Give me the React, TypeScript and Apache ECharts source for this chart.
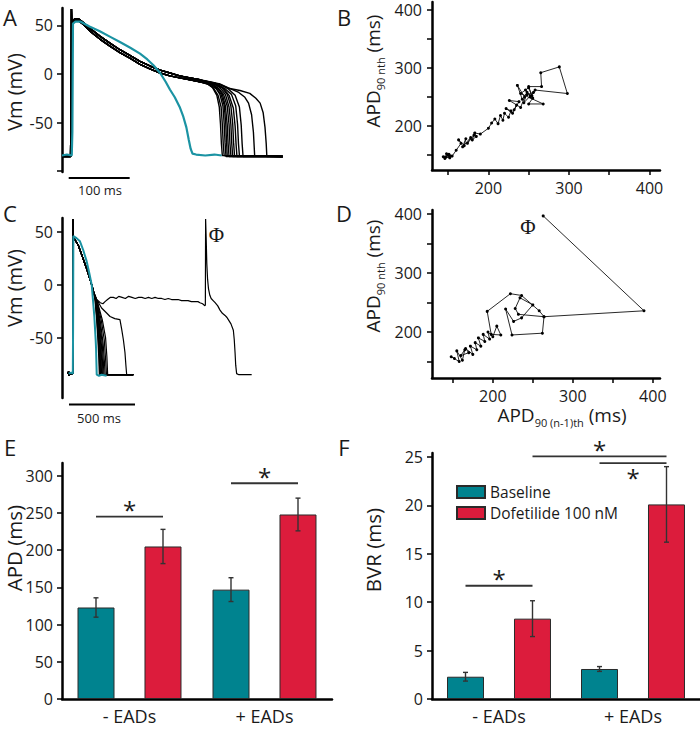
import React, { useEffect, useRef } from 'react';
import * as echarts from 'echarts';

const FONT = '"Open Sans", "Noto Sans", sans-serif';
const SERIF = '"Liberation Serif", "DejaVu Serif", serif';
const TEAL = '#00838f';
const TEAL_TRACE = '#1b93a3';
const RED = '#dc1c3c';
const INK = '#1a1a1a';

// ---------- Panel A : action potentials (t in ms, Vm in mV) ----------
const baselineTraceA: number[][] = [
  [0, -84], [8, -83], [16, -84], [17, -60], [18, 52], [22, 54], [30, 54], [45, 49], [62, 44], [80, 38],
  [95, 33], [112, 27], [128, 21], [140, 15], [150, 9], [161, 1], [170, -8], [177, -16], [185, -24],
  [193, -34], [199, -44], [204, -55], [208, -68], [211, -77], [214, -82], [220, -83], [235, -84],
  [250, -83], [262, -84],
];
const dofCommonA: number[][] = [
  [0, -85], [14, -85], [15, -84], [15.5, 67], [16.5, 40], [18, 54], [21, 57], [27, 57], [35, 53],
  [48, 46], [62, 39], [78, 32], [95, 25], [112, 19], [128, 13], [145, 8], [161, 4], [177, 1],
  [193, -2], [210, -4], [226, -6],
];
const dofCommonA2: number[][] = [
  [0, -84], [14, -84], [15, -84], [16, 20], [18, 52], [21, 56], [27, 55], [35, 51],
  [48, 43], [62, 36], [78, 29], [95, 22], [112, 16], [128, 10], [145, 5], [161, 1], [177, -2],
  [193, -4], [210, -6], [226, -8],
];
const dofTailsA: number[][][] = [
  [[237, -9], [247, -14], [254, -22], [258, -34], [260, -52], [261.5, -72], [263, -84], [362, -85]],
  [[238, -10], [249, -15], [256, -22], [261, -34], [263, -52], [264.5, -72], [266, -84], [362, -85]],
  [[240, -9], [251, -13], [259, -21], [264, -33], [266, -51], [267.5, -71], [269, -85], [362, -85]],
  [[241, -11], [253, -15], [261, -21], [266, -32], [268.5, -50], [270, -71], [271, -84], [362, -85]],
  [[243, -9], [255, -14], [263, -21], [268, -33], [271, -52], [272.5, -72], [274, -85], [362, -85]],
  [[244, -11], [257, -15], [265, -21], [271, -33], [274, -52], [275.5, -72], [277, -84], [362, -85]],
  [[246, -9], [259, -14], [268, -21], [274, -34], [277, -52], [278.5, -72], [280, -85], [362, -85]],
  [[248, -10], [262, -14], [271, -21], [277, -33], [280, -51], [281.5, -71], [283, -84], [362, -85]],
  [[250, -9], [264, -14], [274, -22], [281, -35], [284, -54], [285.5, -72], [287, -85], [362, -85]],
  [[252, -11], [267, -15], [278, -21], [285, -33], [288, -52], [289.5, -72], [291, -84], [362, -85]],
  [[256, -10], [272, -15], [284, -22], [291, -34], [294, -53], [295.5, -72], [297, -85], [362, -85]],
  [[258, -10], [272, -14], [290, -19], [300, -24], [306, -30], [311, -42], [314, -60], [316, -84], [362, -85]],
  [[260, -11], [275, -15], [292, -17], [308, -20], [318, -25], [325, -30], [330, -40], [333, -55], [335, -72], [336, -85], [362, -85]],
];
const scaleBarA = 100; // ms

// ---------- Panel C : action potentials with EAD ----------
const baselineTraceC: number[][] = [
  [50, -84], [70, -83], [82, -84], [84, -40], [86, 46], [91, 46], [110, 44], [136, 41], [160, 33],
  [187, 22], [205, 12], [225, 0], [237, -18], [245, -30], [250, -41], [255, -52], [258, -60],
  [261, -75], [263, -85], [280, -86], [300, -85], [338, -86],
];
const dofCommonC: number[][] = [
  [45, -84], [50, -82], [55, -86], [60, -84], [82, -84], [83, 62], [84.5, 30], [86, 46], [91, 44],
  [105, 41], [124, 37], [150, 28], [170, 21], [187, 15], [205, 8], [225, 0], [240, -7],
];
const dofTailsC: number[][][] = [
  [[250, -14], [262, -32], [272, -52], [279, -70], [283, -85], [540, -85]],
  [[252, -15], [265, -33], [276, -54], [283, -71], [287, -85], [540, -85]],
  [[253, -14], [268, -34], [280, -55], [287, -72], [292, -85], [540, -85]],
  [[255, -15], [271, -35], [284, -56], [291, -72], [296, -85], [540, -85]],
  [[256, -14], [274, -34], [288, -55], [296, -73], [300, -85], [540, -85]],
  [[258, -15], [278, -35], [293, -56], [301, -72], [306, -85], [540, -85]],
  [[260, -16], [282, -36], [298, -56], [306, -71], [311, -85], [540, -85]],
  [[262, -16], [286, -35], [304, -55], [313, -72], [318, -85], [540, -85]],
  [[265, -17], [292, -36], [312, -56], [321, -72], [327, -85], [540, -85]],
  [[268, -17], [298, -34], [320, -52], [330, -70], [337, -85], [540, -85]],
  [[272, -18], [305, -33], [330, -50], [340, -68], [346, -85], [540, -85]],
  [[263, -14], [300, -22], [340, -27], [364, -30], [400, -32], [439, -33], [452, -42], [465, -52],
    [477, -64], [484, -76], [490, -85], [540, -85]],
  [[263, -14], [290, -17], [310, -18], [326, -16], [345, -14], [365, -12], [389, -12], [410, -13],
    [430, -11], [455, -12], [480, -13], [505, -11], [530, -12], [555, -13], [580, -12], [605, -12],
    [630, -13], [655, -12], [680, -13], [705, -12], [730, -13], [755, -13], [780, -14], [805, -13],
    [830, -14], [855, -14], [880, -14], [905, -15], [930, -15], [955, -15], [980, -16], [1005, -16],
    [1030, -16], [1045, -17], [1065, -18], [1083, -20], [1086, -19], [1088, 62], [1092, 45],
    [1097, 20], [1103, 5], [1110, -4], [1120, -10], [1130, -13], [1145, -15], [1160, -17],
    [1180, -20], [1197, -24], [1215, -27], [1235, -29], [1250, -31], [1260, -33], [1280, -37],
    [1298, -43], [1305, -52], [1311, -64], [1316, -76], [1323, -84], [1340, -85], [1380, -85], [1437, -85]],
];
const scaleBarC = 500; // ms

// ---------- Panels B & D : APD restitution (Poincaré) ----------
const apdPairsB: number[][] = [
  [146, 144], [150, 150], [144, 147], [152, 145], [148, 152], [153, 148], [147, 146], [151, 151],
  [155, 148], [160, 158], [166, 170], [163, 176], [170, 166], [172, 178], [168, 164], [178, 180],
  [174, 170], [182, 184], [180, 176], [185, 182], [183, 188], [190, 186], [200, 196], [204, 205],
  [208, 212], [212, 204], [215, 218], [218, 210], [220, 222], [225, 215], [228, 226], [222, 230],
  [230, 222], [235, 236], [232, 228], [238, 242], [226, 244], [240, 232], [245, 250], [236, 270],
  [242, 246], [248, 258], [244, 240], [252, 252], [246, 262], [255, 248], [250, 238], [268, 238],
  [240, 256], [250, 266], [254, 252], [250, 268], [266, 268], [265, 292], [288, 302], [298, 256],
  [258, 262], [252, 250], [256, 258], [248, 254],
];
const apdPairsD: number[][] = [
  [152, 155], [148, 158], [158, 150], [155, 168], [162, 152], [165, 170], [160, 160], [170, 165],
  [166, 172], [175, 162], [172, 176], [180, 170], [178, 182], [185, 176], [182, 190], [190, 184],
  [188, 196], [196, 188], [194, 200], [200, 192], [205, 210], [210, 195], [198, 196], [193, 235],
  [222, 265], [236, 262], [258, 236], [264, 226], [262, 198], [224, 195], [216, 239], [226, 218],
  [236, 224], [250, 246], [234, 258], [228, 240], [232, 230], [264, 226], [389, 236], [263, 397],
];

// ---------- Panels E & F : bars ----------
const groups = ['- EADs', '+ EADs'];
const apdBaseline = [123, 147];
const apdBaselineErr = [13, 16];
const apdDof = [205, 248];
const apdDofErr = [23, 22];
const bvrBaseline = [2.3, 3.1];
const bvrBaselineErr = [0.45, 0.25];
const bvrDof = [8.3, 20.1];
const bvrDofErr = [1.85, 3.9];
// significance bars: [group1, side1, group2, side2, value, starBelow]
const sigE = [[0, -1, 0, 1, 245, 0], [1, -1, 1, 1, 290, 0]];
const sigF = [[0, -1, 0, 1, 11.7, 0], [0, 1, 1, 1, 25.06, 0], [1, -1, 1, 1, 24.36, 1]];

const BAR_W = 37;
const BAR_OFF = 33.5;

function buildOption() {
  const axisLineStyle = { show: true, onZero: false, lineStyle: { color: '#000', width: 2.5 } };
  const tickStyle = (vals: number[]) => ({ show: true, customValues: vals, length: 5, lineStyle: { color: '#000', width: 1.5 } });
  const labelStyle = (vals: number[], margin: number) => ({
    customValues: vals, fontSize: 16, color: INK, fontFamily: FONT, margin,
  });
  const hiddenX = (grid: number, max: number) => ({ gridIndex: grid, type: 'value', min: 0, max, show: false });
  const grid = (left: number, top: number, width: number, height: number) => ({ left, top, width, height, containLabel: false });

  const series: any[] = [];
  // A
  dofTailsA.forEach((tail, i) => {
    series.push({
      type: 'line', xAxisIndex: 0, yAxisIndex: 0, data: (i % 2 ? dofCommonA2 : dofCommonA).concat(tail), showSymbol: false,
      lineStyle: { color: '#000', width: 1.4 }, z: 2, silent: true,
    });
  });
  series.push({
    type: 'line', xAxisIndex: 0, yAxisIndex: 0, data: baselineTraceA, showSymbol: false,
    lineStyle: { color: TEAL_TRACE, width: 2.2 }, z: 3, silent: true,
  });
  series.push({
    type: 'line', xAxisIndex: 0, yAxisIndex: 0, data: [[11, -107.2], [11 + scaleBarA, -107.2]], showSymbol: false,
    lineStyle: { color: '#000', width: 2 }, clip: false, silent: true,
  });
  // C
  dofTailsC.forEach((tail) => {
    series.push({
      type: 'line', xAxisIndex: 2, yAxisIndex: 2, data: dofCommonC.concat(tail), showSymbol: false,
      lineStyle: { color: '#000', width: 1.2 }, z: 2, silent: true,
    });
  });
  series.push({
    type: 'line', xAxisIndex: 2, yAxisIndex: 2, data: baselineTraceC, showSymbol: false,
    lineStyle: { color: TEAL_TRACE, width: 2 }, z: 3, silent: true,
  });
  series.push({
    type: 'line', xAxisIndex: 2, yAxisIndex: 2, data: [[53, -113.2], [53 + scaleBarC, -113.2]], showSymbol: false,
    lineStyle: { color: '#000', width: 2 }, clip: false, silent: true,
  });
  // B, D
  [[1, apdPairsB], [3, apdPairsD]].forEach(([idx, pts]: any) => {
    series.push({
      type: 'line', xAxisIndex: idx, yAxisIndex: idx, data: pts, showSymbol: true, symbol: 'circle', symbolSize: 3,
      itemStyle: { color: '#000' }, lineStyle: { color: '#111', width: 0.9 }, silent: true,
    });
  });

  // E, F bars
  const barStyle = (c: string) => ({ color: c, borderColor: '#2a2a2a', borderWidth: 1 });
  const errRender = (params: any, api: any) => {
    const cat = api.value(0), v = api.value(1), e = api.value(2), side = api.value(3);
    const top = api.coord([cat, v + e]);
    const bot = api.coord([cat, v - e]);
    const x = top[0] + side * BAR_OFF;
    const style = { stroke: '#333', lineWidth: 1.4 };
    return {
      type: 'group', children: [
        { type: 'line', shape: { x1: x, y1: top[1], x2: x, y2: bot[1] }, style },
        { type: 'line', shape: { x1: x - 2.5, y1: top[1], x2: x + 2.5, y2: top[1] }, style },
        { type: 'line', shape: { x1: x - 2.5, y1: bot[1], x2: x + 2.5, y2: bot[1] }, style },
      ],
    };
  };
  const sigRender = (params: any, api: any) => {
    const c1 = api.value(0), s1 = api.value(1), c2 = api.value(2), s2 = api.value(3), v = api.value(4), below = api.value(5);
    const p1 = api.coord([c1, v]);
    const p2 = api.coord([c2, v]);
    const x1 = p1[0] + s1 * BAR_OFF;
    const x2 = p2[0] + s2 * BAR_OFF;
    return {
      type: 'group', children: [
        { type: 'line', shape: { x1, y1: p1[1], x2, y2: p1[1] }, style: { stroke: '#333', lineWidth: 1.8 } },
        {
          type: 'text', x: (x1 + x2) / 2, y: below ? p1[1] + 14 : p1[1] - 7,
          style: { text: '*', fontSize: 24, fontFamily: FONT, fill: INK, textAlign: 'center', textVerticalAlign: 'middle' },
        },
      ],
    };
  };
  const addBars = (idx: number, base: number[], baseErr: number[], dof: number[], dofErr: number[], sig: number[][]) => {
    series.push({ name: 'Baseline', type: 'bar', xAxisIndex: idx, yAxisIndex: idx, data: base, barWidth: BAR_W, barGap: '81%', itemStyle: barStyle(TEAL), silent: true });
    series.push({ name: 'Dofetilide 100 nM', type: 'bar', xAxisIndex: idx, yAxisIndex: idx, data: dof, barWidth: BAR_W, barGap: '81%', itemStyle: barStyle(RED), silent: true });
    const errData = base.map((v, i) => [i, v, baseErr[i], -1]).concat(dof.map((v, i) => [i, v, dofErr[i], 1]));
    series.push({ type: 'custom', xAxisIndex: idx, yAxisIndex: idx, data: errData, renderItem: errRender, z: 5, silent: true, encode: { x: 0, y: 1 } });
    series.push({ type: 'custom', xAxisIndex: idx, yAxisIndex: idx, data: sig, renderItem: sigRender, z: 5, silent: true, clip: false, encode: { x: 0, y: 4 } });
  };
  addBars(4, apdBaseline, apdBaselineErr, apdDof, apdDofErr, sigE);
  addBars(5, bvrBaseline, bvrBaselineErr, bvrDof, bvrDofErr, sigF);

  const catAxis = (grid: number) => ({
    gridIndex: grid, type: 'category', data: groups, axisLine: axisLineStyle, axisTick: { show: false },
    axisLabel: { fontSize: 18, color: INK, fontFamily: FONT, margin: 8 }, splitLine: { show: false },
  });

  const t = (text: string, x: number, y: number, size: number, extra: any = {}) => ({
    type: 'text', x, y, ...extra,
    style: { text, fontSize: size, fontFamily: FONT, fill: INK, textAlign: 'center', textVerticalAlign: 'middle', ...(extra.style || {}) },
  });
  const rotT = (text: string, x: number, y: number, size: number) => ({
    type: 'text', x, y, rotation: Math.PI / 2,
    style: { text, fontSize: size, fontFamily: FONT, fill: INK, textAlign: 'center', textVerticalAlign: 'middle' },
  });
  const apdRich = {
    m: { fontSize: 19, fontFamily: FONT, fill: INK, lineHeight: 26, verticalAlign: 'middle' },
    s: { fontSize: 11, fontFamily: FONT, fill: INK, lineHeight: 12, verticalAlign: 'bottom' },
  };
  const apdY = (x: number, y: number) => ({
    type: 'text', x, y, rotation: Math.PI / 2,
    style: { text: '{m|APD}{s|90 nth}{m| (ms)}', rich: apdRich, textAlign: 'center', textVerticalAlign: 'middle' },
  });

  const graphics: any[] = [
    t('A', 10, 16.5, 22), t('B', 344, 16.5, 22), t('C', 10, 213, 22), t('D', 344, 213, 22),
    t('E', 10, 446.5, 22), t('F', 344, 446.5, 22),
    rotT('Vm (mV)', 14, 92, 20), rotT('Vm (mV)', 14, 288, 20),
    rotT('APD (ms)', 14, 548, 20.5), rotT('BVR (ms)', 373, 550, 20.5),
    t('100 ms', 100, 190, 13), t('500 ms', 99, 418, 13),
    { type: 'text', x: 216.5, y: 234.5, style: { text: 'Φ', fontSize: 21, fontFamily: SERIF, fill: INK, textAlign: 'center', textVerticalAlign: 'middle' } },
    { type: 'text', x: 528, y: 226.5, style: { text: 'Φ', fontSize: 21, fontFamily: SERIF, fill: INK, textAlign: 'center', textVerticalAlign: 'middle' } },
    apdY(373, 71), apdY(373, 276),
    {
      type: 'text', x: 562, y: 415,
      style: { text: '{m|APD}{s|90 (n-1)th}{m| (ms)}', rich: apdRich, textAlign: 'center', textVerticalAlign: 'middle' },
    },
  ];

  return {
    animation: false,
    textStyle: { fontFamily: FONT },
    grid: [
      grid(62, 8, 228, 164),
      grid(432, 2, 228, 168),
      grid(62, 218, 198, 180),
      grid(432, 210, 228, 168),
      grid(62, 463, 270, 236),
      grid(432, 453, 270, 246),
    ],
    xAxis: [
      hiddenX(0, 374),
      {
        gridIndex: 1, type: 'value', min: 130, max: 413, axisLine: axisLineStyle,
        axisTick: tickStyle([150, 200, 250, 300, 350, 400]), axisLabel: labelStyle([200, 300, 400], 10), splitLine: { show: false },
      },
      hiddenX(2, 1500),
      {
        gridIndex: 3, type: 'value', min: 124, max: 409, axisLine: axisLineStyle,
        axisTick: tickStyle([150, 200, 250, 300, 350, 400]), axisLabel: labelStyle([200, 300, 400], 10), splitLine: { show: false },
      },
      catAxis(4),
      catAxis(5),
    ],
    yAxis: [
      {
        gridIndex: 0, type: 'value', min: -101, max: 68, axisLine: axisLineStyle,
        axisTick: tickStyle([-100, -50, 0, 50]), axisLabel: labelStyle([-50, 0, 50], 9), splitLine: { show: false },
      },
      {
        gridIndex: 1, type: 'value', min: 124, max: 414, axisLine: axisLineStyle,
        axisTick: tickStyle([150, 200, 250, 300, 350, 400]), axisLabel: labelStyle([200, 300, 400], 10), splitLine: { show: false },
      },
      {
        gridIndex: 2, type: 'value', min: -107, max: 63, axisLine: axisLineStyle,
        axisTick: tickStyle([-50, 0, 50]), axisLabel: labelStyle([-50, 0, 50], 9), splitLine: { show: false },
      },
      {
        gridIndex: 3, type: 'value', min: 122, max: 407, axisLine: axisLineStyle,
        axisTick: tickStyle([150, 200, 250, 300, 350, 400]), axisLabel: labelStyle([200, 300, 400], 10), splitLine: { show: false },
      },
      {
        gridIndex: 4, type: 'value', min: 0, max: 317.2, axisLine: axisLineStyle,
        axisTick: tickStyle([0, 50, 100, 150, 200, 250, 300]), axisLabel: labelStyle([0, 50, 100, 150, 200, 250, 300], 9), splitLine: { show: false },
      },
      {
        gridIndex: 5, type: 'value', min: 0, max: 25.41, axisLine: axisLineStyle,
        axisTick: tickStyle([0, 5, 10, 15, 20, 25]), axisLabel: labelStyle([0, 5, 10, 15, 20, 25], 9), splitLine: { show: false },
      },
    ],
    legend: {
      show: true, data: ['Baseline', 'Dofetilide 100 nM'], orient: 'vertical', left: 456, top: 483, padding: 0,
      itemWidth: 28, itemHeight: 12, itemGap: 3, icon: 'rect', selectedMode: false,
      textStyle: { fontSize: 15.5, fontFamily: FONT, color: INK, lineHeight: 18 },
    },
    graphic: graphics,
    series,
  };
}

export default function App() {
  const ref = useRef<HTMLDivElement>(null);
  useEffect(() => {
    document.body.style.margin = '0';
    const chart = echarts.init(ref.current as HTMLDivElement, null, { renderer: 'svg' });
    chart.setOption(buildOption() as any);
    return () => chart.dispose();
  }, []);
  return <div ref={ref} style={{ width: 700, height: 729, position: 'absolute', left: 0, top: 0 }} />;
}
